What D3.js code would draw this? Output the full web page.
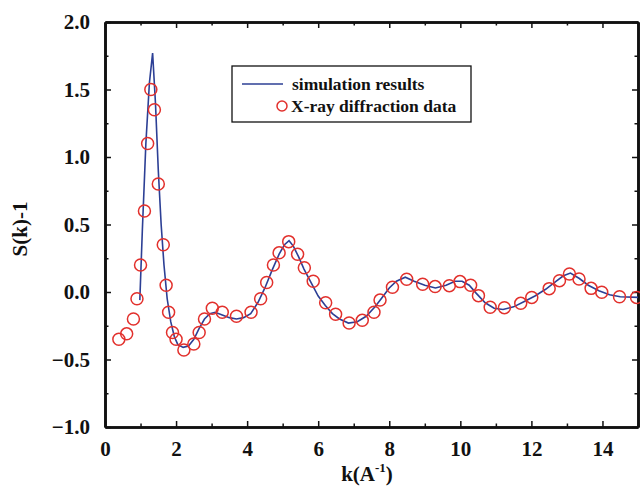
<!DOCTYPE html>
<html>
<head>
<meta charset="utf-8">
<script src="https://cdn.jsdelivr.net/npm/d3@7"></script>
<style>
  html, body { margin: 0; padding: 0; background: #fff; overflow: hidden; }
  #chart { display: block; }
  svg text { font-family: "Liberation Serif", "Times New Roman", serif; font-weight: bold; fill: #111; }
</style>
</head>
<body>
<svg id="chart" width="640" height="486"></svg>
<script>
// X-ray diffraction data (k, S(k)-1)
const expK = [0.39, 0.61, 0.80, 0.90, 1.00, 1.11, 1.20, 1.29, 1.39, 1.50, 1.64, 1.72, 1.79, 1.90, 2.00,
  2.22, 2.50, 2.65, 2.80, 3.02, 3.30, 3.70, 4.11, 4.38, 4.55, 4.74, 4.90, 5.17, 5.42, 5.61, 5.86,
  6.21, 6.49, 6.87, 7.24, 7.57, 7.74, 8.09, 8.49, 8.94, 9.29, 9.69, 9.99, 10.29, 10.51, 10.84,
  11.24, 11.70, 12.01, 12.50, 12.79, 13.07, 13.34, 13.68, 13.98, 14.48, 14.96];
const expS = [-0.35, -0.31, -0.20, -0.05, 0.20, 0.60, 1.10, 1.50, 1.35, 0.80, 0.35, 0.05, -0.15, -0.30, -0.35,
  -0.43, -0.385, -0.30, -0.20, -0.12, -0.15, -0.18, -0.15, -0.05, 0.07, 0.20, 0.29, 0.373, 0.28, 0.18, 0.08,
  -0.08, -0.165, -0.23, -0.21, -0.15, -0.06, 0.035, 0.094, 0.057, 0.04, 0.047, 0.077, 0.05, -0.027, -0.113,
  -0.116, -0.084, -0.04, 0.025, 0.084, 0.133, 0.096, 0.027, -0.002, -0.035, -0.04];

// simulation results
const simK = [0.98, 1.05, 1.15, 1.25, 1.34, 1.42, 1.50, 1.58, 1.66, 1.75, 1.85, 1.95, 2.05, 2.20, 2.35,
  2.50, 2.65, 2.80, 2.95, 3.10, 3.30, 3.50, 3.70, 3.90, 4.10, 4.30, 4.50, 4.70, 4.90, 5.05, 5.18, 5.30,
  5.45, 5.60, 5.80, 6.00, 6.20, 6.40, 6.60, 6.85, 7.10, 7.35, 7.60, 7.80, 8.00, 8.20, 8.45, 8.70, 9.00,
  9.30, 9.60, 9.85, 10.05, 10.25, 10.45, 10.70, 10.95, 11.20, 11.50, 11.80, 12.10, 12.40, 12.70, 12.90,
  13.10, 13.35, 13.60, 13.90, 14.20, 14.50, 15.00];
const simS = [-0.06, 0.45, 1.10, 1.55, 1.77, 1.40, 0.90, 0.50, 0.20, -0.05, -0.22, -0.33, -0.39, -0.41, -0.40,
  -0.35, -0.27, -0.20, -0.16, -0.15, -0.17, -0.19, -0.20, -0.19, -0.16, -0.08, 0.03, 0.16, 0.28, 0.35, 0.38, 0.34,
  0.26, 0.17, 0.07, -0.03, -0.10, -0.16, -0.20, -0.23, -0.22, -0.18, -0.11, -0.04, 0.03, 0.08, 0.11, 0.08, 0.05,
  0.03, 0.05, 0.08, 0.08, 0.05, -0.01, -0.08, -0.12, -0.13, -0.11, -0.07, -0.03, 0.02, 0.08, 0.12,
  0.14, 0.10, 0.05, 0.01, -0.02, -0.035, -0.04];

const xMajor = [0, 2, 4, 6, 8, 10, 12, 14];
const xMinor = [1, 3, 5, 7, 9, 11, 13, 15];
const yMajor = [-1.0, -0.5, 0.0, 0.5, 1.0, 1.5, 2.0];
const yMinor = [-0.75, -0.25, 0.25, 0.75, 1.25, 1.75];

const svg = d3.select("#chart");
const margin = { top: 22, right: 2, bottom: 59, left: 105 };
const innerWidth = 640 - margin.left - margin.right;
const innerHeight = 486 - margin.top - margin.bottom;

const g = svg.append("g").attr("transform", `translate(${margin.left},${margin.top})`);

const x = d3.scaleLinear().domain([0, 15]).range([0, innerWidth]);
const y = d3.scaleLinear().domain([-1, 2]).range([innerHeight, 0]);

function styleAxis(sel) {
    sel.attr("font-size", 21).attr("font-family", null);
    sel.select(".domain").attr("stroke", "#111").attr("stroke-width", 2.6);
    sel.selectAll(".tick line").attr("stroke", "#111").attr("stroke-width", 1.5);
}
// tick-only axes: drop the empty label nodes
function noLabels(sel) {
    sel.selectAll(".tick text").remove();
}

// axes: major ticks with labels on bottom/left, ticks only on top/right
g.append("g").attr("transform", `translate(0,${innerHeight})`)
    .call(d3.axisBottom(x).tickValues(xMajor).tickSize(-6).tickSizeOuter(0).tickPadding(14).tickFormat(d3.format("d")))
    .call(styleAxis);
g.append("g").attr("transform", `translate(0,${innerHeight})`)
    .call(d3.axisBottom(x).tickValues(xMinor).tickSize(-3.5).tickSizeOuter(0))
    .call(styleAxis).call(noLabels);

g.append("g")
    .call(d3.axisTop(x).tickValues(xMajor).tickSize(-6).tickSizeOuter(0))
    .call(styleAxis).call(noLabels);
g.append("g")
    .call(d3.axisTop(x).tickValues(xMinor).tickSize(-3.5).tickSizeOuter(0))
    .call(styleAxis).call(noLabels);

g.append("g")
    .call(d3.axisLeft(y).tickValues(yMajor).tickSize(-6).tickSizeOuter(0).tickPadding(15).tickFormat(d3.format(".1f")))
    .call(styleAxis);
g.append("g")
    .call(d3.axisLeft(y).tickValues(yMinor).tickSize(-3.5).tickSizeOuter(0))
    .call(styleAxis).call(noLabels);

g.append("g").attr("transform", `translate(${innerWidth},0)`)
    .call(d3.axisRight(y).tickValues(yMajor).tickSize(-6).tickSizeOuter(0))
    .call(styleAxis).call(noLabels);
g.append("g").attr("transform", `translate(${innerWidth},0)`)
    .call(d3.axisRight(y).tickValues(yMinor).tickSize(-3.5).tickSizeOuter(0))
    .call(styleAxis).call(noLabels);

// simulation line
const simData = simK.map((k, i) => ({ k: k, s: simS[i] }));
const line = d3.line().x(d => x(d.k)).y(d => y(d.s));
g.append("path")
    .datum(simData)
    .attr("d", line)
    .attr("fill", "none")
    .attr("stroke", "#2c3f95")
    .attr("stroke-width", 1.6);

// experiment circles
const expData = expK.map((k, i) => ({ k: k, s: expS[i] }));
g.append("g").selectAll("circle")
    .data(expData)
    .enter()
    .append("circle")
    .attr("cx", d => x(d.k))
    .attr("cy", d => y(d.s))
    .attr("r", 6)
    .attr("fill", "none")
    .attr("stroke", "#e2302c")
    .attr("stroke-width", 1.5);

// legend
const legend = svg.append("g").attr("transform", "translate(232,66)");
legend.append("rect")
    .attr("width", 239).attr("height", 56)
    .attr("fill", "#fff").attr("stroke", "#111").attr("stroke-width", 1.3);
legend.append("line")
    .attr("x1", 10).attr("x2", 51).attr("y1", 18).attr("y2", 18)
    .attr("stroke", "#2c3f95").attr("stroke-width", 1.6);
legend.append("text").attr("x", 60).attr("y", 24).attr("font-size", 17.5).text("simulation results");
legend.append("circle")
    .attr("cx", 50).attr("cy", 40).attr("r", 5)
    .attr("fill", "none").attr("stroke", "#e2302c").attr("stroke-width", 1.5);
legend.append("text").attr("x", 59).attr("y", 46).attr("font-size", 17.5).text("X-ray diffraction data");

// axis titles
svg.append("text")
    .attr("transform", "translate(27,229) rotate(-90)")
    .attr("text-anchor", "middle")
    .attr("font-size", 21)
    .text("S(k)-1");

const xt = svg.append("text")
    .attr("x", 367).attr("y", 481)
    .attr("text-anchor", "middle")
    .attr("font-size", 21);
xt.append("tspan").text("k(A");
xt.append("tspan").attr("dy", -9).attr("font-size", 13).text("-1");
xt.append("tspan").attr("dy", 9).text(")");
</script>
</body>
</html>
